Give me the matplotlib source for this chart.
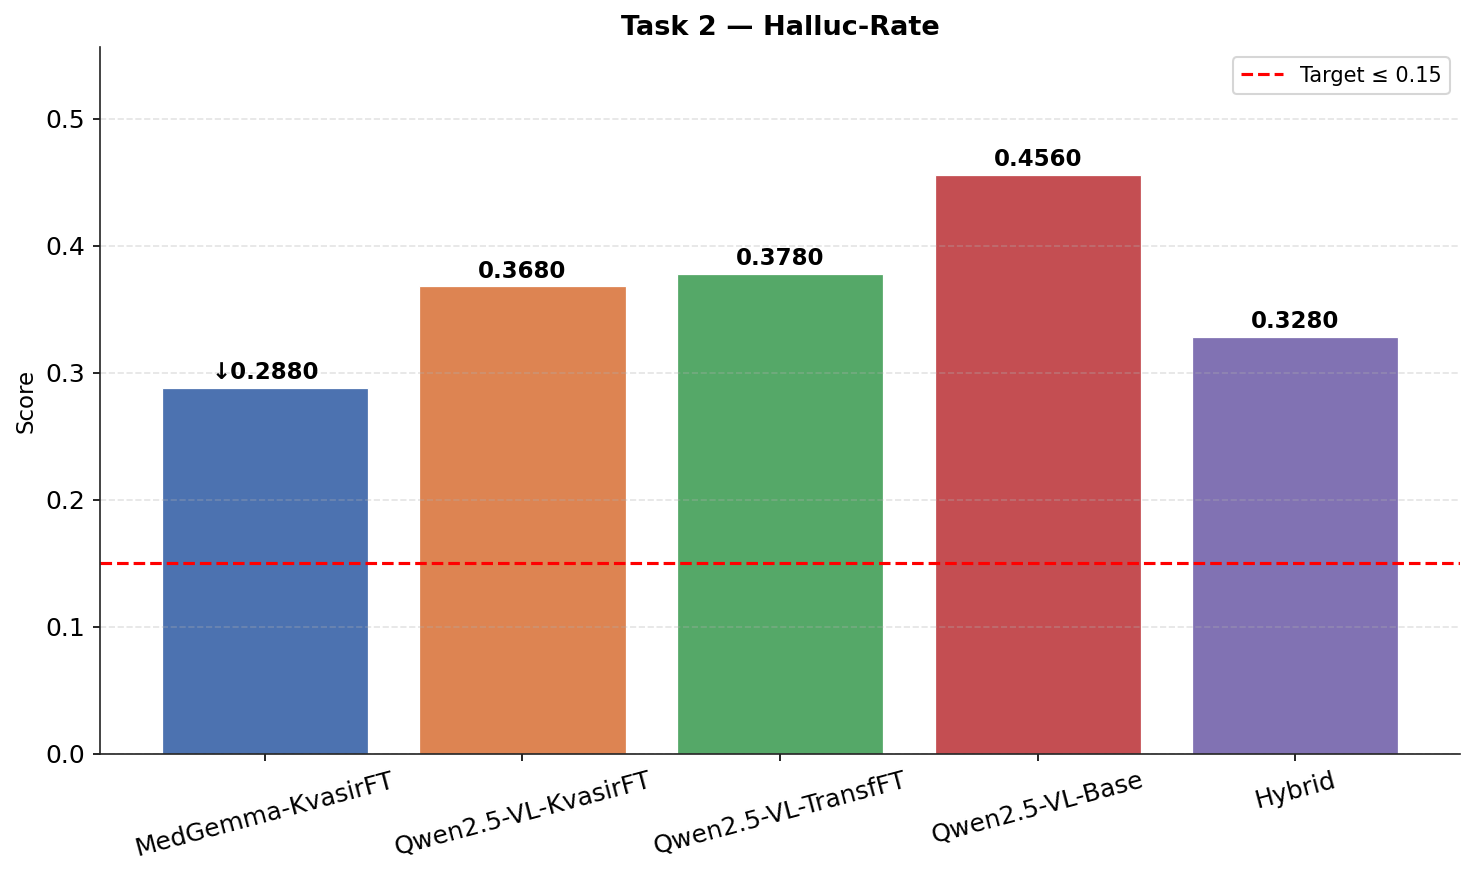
import matplotlib
matplotlib.use("Agg")
import matplotlib.pyplot as plt

models = ["MedGemma-KvasirFT", "Qwen2.5-VL-KvasirFT", "Qwen2.5-VL-TransfFT", "Qwen2.5-VL-Base", "Hybrid"]
values = [0.288, 0.368, 0.378, 0.456, 0.328]
colors = ["#4C72B0", "#DD8452", "#55A868", "#C44E52", "#8172B3"]
target = 0.15
title = "Task 2 — Halluc-Rate"

fig, ax = plt.subplots(figsize=(9.84, 5.84), dpi=150)
x = range(len(models))
bars = ax.bar(x, values, color=colors, width=0.8, edgecolor="white", linewidth=0.6)
best = min(values)
for b, v in zip(bars, values):
    lab = ("↓" if v == best else "") + f"{v:.4f}"
    ax.text(b.get_x() + b.get_width() / 2, v + 0.003, lab, ha="center", va="bottom",
            fontsize=11, fontweight="bold")
ax.axhline(target, color="red", linestyle="--", linewidth=1.5, label=f"Target ≤ {target}")
ax.set_ylim(0, max(values) * 1.22)
ax.set_xticks(list(x))
ax.set_xticklabels(models, rotation=15, ha="center", fontsize=12)
ax.tick_params(axis="y", labelsize=12)
ax.set_ylabel("Score", fontsize=11)
ax.set_title(title, fontsize=13, fontweight="bold")
ax.grid(axis="y", linestyle="--", alpha=0.35, linewidth=0.8)
for s in ["top", "right"]:
    ax.spines[s].set_visible(False)
for s in ["left", "bottom"]:
    ax.spines[s].set_color("#222222")
ax.legend(loc="upper right", fontsize=10)
fig.subplots_adjust(left=0.0678, right=0.9892, top=0.9463, bottom=0.1393)
fig.savefig("out.png", dpi=150)
